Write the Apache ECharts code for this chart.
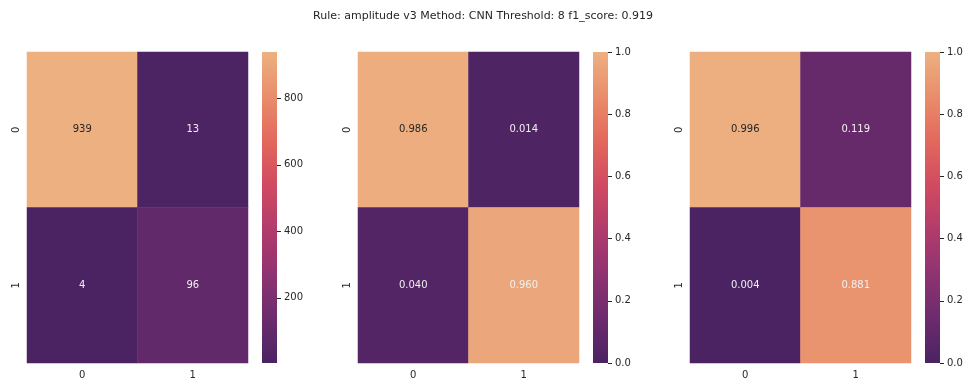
<!DOCTYPE html>
<html>
<head>
<meta charset="utf-8">
<script src="https://cdn.jsdelivr.net/npm/echarts@6/dist/echarts.min.js"></script>
<style>
  html, body { margin: 0; padding: 0; background: #fff; }
  #main { width: 966px; height: 381px; }
</style>
</head>
<body>
<div id="main"></div>
<script>
const titleText = "Rule: amplitude v3 Method: CNN Threshold: 8 f1_score: 0.919"
const classes = ["0", "1"]
// confusion matrices, rows = true label, cols = predicted
const counts = [[939, 13], [4, 96]]
const rowRates = [[0.986, 0.014], [0.040, 0.960]]
const colRates = [[0.996, 0.119], [0.004, 0.881]]
const countTicks = [200, 400, 600, 800]
const rateTicks = [0, 0.2, 0.4, 0.6, 0.8, 1.0]

// flare_r like colormap
const flare = ["#4b2362", "#6c2b6d", "#8f3371", "#b13c6c", "#d14a61", "#e3685c", "#e98d6b", "#edb081"]
const ink = "#262626"
const font = "DejaVu Sans"

const panels = [
  { mat: counts, min: 4, max: 939, ticks: countTicks, dec: 0, left: 27, bar: 262 },
  { mat: rowRates, min: 0, max: 1, ticks: rateTicks, dec: 3, left: 358, bar: 593 },
  { mat: colRates, min: 0, max: 1, ticks: rateTicks, dec: 3, left: 690, bar: 925 }
]
const plotTop = 52
const plotH = 311
const plotW = 221

// colorbar gradient, bottom = low, top = high
const barFill = new echarts.graphic.LinearGradient(0, 1, 0, 0,
  flare.map(function (c, k) { return { offset: k / (flare.length - 1), color: c } }))

const grid = []
const xAxis = []
const yAxis = []
const series = []
const visualMap = []

panels.forEach(function (p, i) {
  // heatmap grid
  grid.push({ left: p.left, top: plotTop, width: plotW, height: plotH })
  xAxis.push({
    type: "category", gridIndex: 2 * i, data: classes,
    axisLine: { show: false }, splitLine: { show: false },
    axisTick: { alignWithLabel: true, length: 4, lineStyle: { color: ink } },
    axisLabel: { color: ink, fontFamily: font, fontSize: 10, margin: 7 }
  })
  yAxis.push({
    type: "category", gridIndex: 2 * i, data: classes, inverse: true,
    axisLine: { show: false }, splitLine: { show: false },
    axisTick: { alignWithLabel: true, length: 4, lineStyle: { color: ink } },
    axisLabel: { color: ink, fontFamily: font, fontSize: 10, margin: 6, rotate: 90 }
  })
  // colorbar grid
  grid.push({
    left: p.bar, top: plotTop, width: 15, height: plotH,
    show: true, backgroundColor: barFill, borderWidth: 0
  })
  xAxis.push({ type: "value", gridIndex: 2 * i + 1, show: false, min: 1, max: 2 })
  const yb = {
    type: "value", gridIndex: 2 * i + 1, position: "right", min: p.min, max: p.max,
    axisLine: { show: false, onZero: false }, splitLine: { show: false },
    axisTick: { show: true, inside: false, length: 4, lineStyle: { color: ink } },
    axisLabel: {
      color: ink, fontFamily: font, fontSize: 10, margin: 7,
      formatter: function (v) { return p.dec ? v.toFixed(1) : String(v) }
    }
  }
  if (p.dec) {
    yb.interval = 0.2
  } else {
    yb.axisTick.customValues = p.ticks
    yb.axisLabel.customValues = p.ticks
  }
  yAxis.push(yb)

  const data = []
  p.mat.forEach(function (row, r) {
    row.forEach(function (v, c) {
      const t = (v - p.min) / (p.max - p.min)
      data.push({
        value: [c, r, v],
        label: { color: t > 0.97 ? ink : "#f0f0f0" }
      })
    })
  })
  series.push({
    type: "heatmap", xAxisIndex: 2 * i, yAxisIndex: 2 * i, data: data,
    label: {
      show: true, fontFamily: font, fontSize: 10,
      formatter: function (d) { return p.dec ? d.value[2].toFixed(3) : String(d.value[2]) }
    },
    emphasis: { disabled: true }
  })
  visualMap.push({
    type: "continuous", seriesIndex: i, min: p.min, max: p.max, dimension: 2,
    show: false, inRange: { color: flare }
  })
})

const chart = echarts.init(document.getElementById("main"))
chart.setOption({
  backgroundColor: "#fff",
  animation: false,
  title: {
    text: titleText, left: "center", top: 6,
    textStyle: { fontFamily: font, fontSize: 11, fontWeight: "normal", color: ink }
  },
  grid: grid,
  xAxis: xAxis,
  yAxis: yAxis,
  visualMap: visualMap,
  series: series
})
</script>
</body>
</html>
